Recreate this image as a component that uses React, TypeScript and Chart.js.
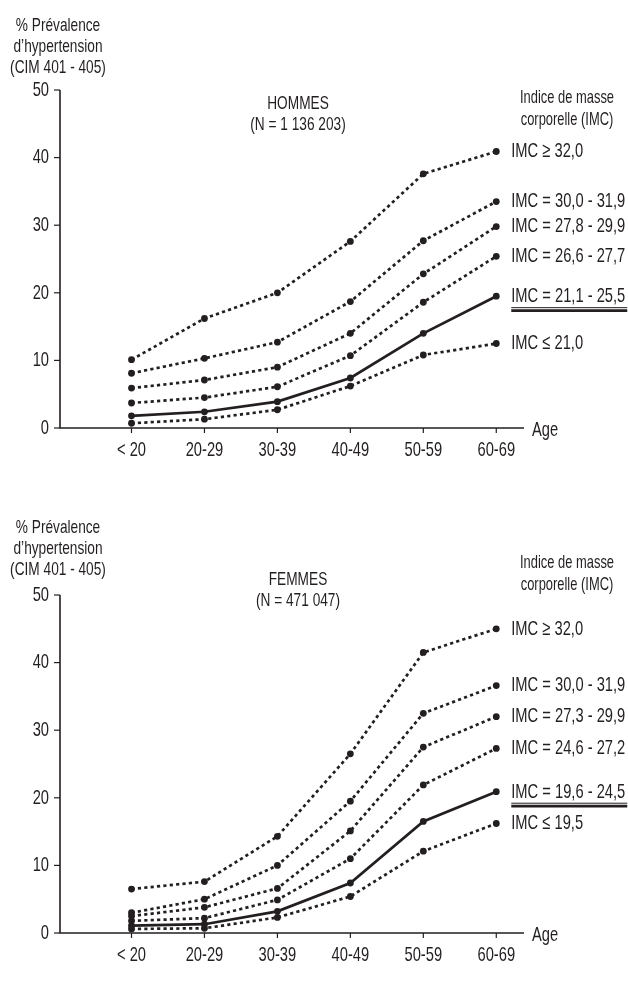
import React, { useEffect, useRef } from "react";
import { Chart, registerables } from "chart.js";

Chart.register(...registerables);

// ---------- DATA ----------
const AGE_LABELS = ["< 20", "20-29", "30-39", "40-49", "50-59", "60-69"];
const Y_TICKS = [0, 10, 20, 30, 40, 50];

const MEN_BMI_LABELS = [
  "IMC ≥ 32,0",
  "IMC = 30,0 - 31,9",
  "IMC = 27,8 - 29,9",
  "IMC = 26,6 - 27,7",
  "IMC = 21,1 - 25,5",
  "IMC ≤ 21,0",
];
const MEN_GE32 = [10.1, 16.2, 20.0, 27.6, 37.6, 40.9];
const MEN_30_31 = [8.1, 10.3, 12.7, 18.7, 27.7, 33.5];
const MEN_27_29 = [5.9, 7.1, 9.0, 14.0, 22.8, 29.8];
const MEN_26_27 = [3.7, 4.5, 6.1, 10.7, 18.6, 25.4];
const MEN_21_25 = [1.8, 2.4, 3.9, 7.4, 14.0, 19.5];
const MEN_LE21 = [0.7, 1.3, 2.7, 6.2, 10.8, 12.5];

const WOMEN_BMI_LABELS = [
  "IMC ≥ 32,0",
  "IMC = 30,0 - 31,9",
  "IMC = 27,3 - 29,9",
  "IMC = 24,6 - 27,2",
  "IMC = 19,6 - 24,5",
  "IMC ≤ 19,5",
];
const WOMEN_GE32 = [6.5, 7.6, 14.3, 26.5, 41.5, 45.0];
const WOMEN_30_31 = [3.0, 5.0, 10.0, 19.5, 32.5, 36.6];
const WOMEN_27_29 = [2.5, 3.8, 6.6, 15.1, 27.5, 32.0];
const WOMEN_24_27 = [1.8, 2.2, 4.9, 11.0, 21.9, 27.3];
const WOMEN_19_24 = [1.1, 1.3, 3.2, 7.4, 16.5, 20.9];
const WOMEN_LE19 = [0.6, 0.7, 2.3, 5.4, 12.1, 16.2];

const Y_TITLE = ["% Prévalence", "d’hypertension", "(CIM 401 - 405)"];
const LEGEND_TITLE = ["Indice de masse", "corporelle (IMC)"];
const X_TITLE = "Age";

const MEN_TITLE = ["HOMMES", "(N = 1 136 203)"];
const WOMEN_TITLE = ["FEMMES", "(N = 471 047)"];

// ---------- STYLE / LAYOUT ----------
const INK = "#231f20";
const W = 628;
const H = 494;
const FONT = '"Liberation Sans", Arial, sans-serif';
const SX = 0.7;

function txt(
  ctx: CanvasRenderingContext2D,
  s: string,
  x: number,
  y: number,
  align: CanvasTextAlign,
  size = 21,
  sx = SX
) {
  ctx.save();
  ctx.font = `${size}px ${FONT}`;
  ctx.fillStyle = INK;
  ctx.textBaseline = "middle";
  ctx.textAlign = align;
  ctx.translate(x, y);
  ctx.scale(sx, 1);
  ctx.fillText(s, 0, 0);
  const w = ctx.measureText(s).width * sx;
  ctx.restore();
  return w;
}

type Spec = {
  title: string[];
  labels: string[];
  series: number[][];
  solid: number;
  top: number; // pixel of y=50
  bottom: number; // pixel of y=0
  titleY: number;
  legendY: number;
  yTitleY: number;
};

function makePlugin(spec: Spec) {
  return {
    id: "decor",
    beforeDatasetsDraw(chart: any) {
      const ctx: CanvasRenderingContext2D = chart.ctx;
      const xs = chart.scales.x;
      const ys = chart.scales.y;
      const x0 = xs.left;
      const x1 = xs.right;
      const yb = ys.getPixelForValue(0);
      const yt = ys.getPixelForValue(50);
      ctx.save();
      ctx.strokeStyle = INK;
      ctx.lineWidth = 1.6;
      ctx.beginPath();
      ctx.moveTo(x0, yt);
      ctx.lineTo(x0, yb);
      ctx.lineTo(x1, yb);
      ctx.stroke();
      ctx.lineWidth = 1.2;
      Y_TICKS.forEach((v) => {
        const y = ys.getPixelForValue(v);
        ctx.beginPath();
        ctx.moveTo(x0 - 6, y);
        ctx.lineTo(x0, y);
        ctx.stroke();
      });
      AGE_LABELS.forEach((_, i) => {
        const x = xs.getPixelForValue(i);
        ctx.beginPath();
        ctx.moveTo(x, yb);
        ctx.lineTo(x, yb + 5);
        ctx.stroke();
      });
      ctx.restore();
    },
    afterDraw(chart: any) {
      const ctx: CanvasRenderingContext2D = chart.ctx;
      const xs = chart.scales.x;
      const ys = chart.scales.y;
      const x0 = xs.left;
      const yb = ys.getPixelForValue(0);
      Y_TICKS.forEach((v) => {
        txt(ctx, String(v), x0 - 11, ys.getPixelForValue(v), "right");
      });
      AGE_LABELS.forEach((l, i) => {
        txt(ctx, l, xs.getPixelForValue(i), yb + 22, "center");
      });
      txt(ctx, X_TITLE, xs.right + 8, yb + 2, "left");
      Y_TITLE.forEach((l, i) => {
        txt(ctx, l, x0 - 2, spec.yTitleY + i * 21, "center", 19, 0.72);
      });
      spec.title.forEach((l, i) => {
        txt(ctx, l, 298, spec.titleY + i * 21, "center", 19, 0.72);
      });
      LEGEND_TITLE.forEach((l, i) => {
        txt(ctx, l, 567, spec.legendY + i * 22, "center", 19, 0.68);
      });
      const lx = xs.getPixelForValue(5) + 15;
      spec.series.forEach((vals, k) => {
        const y = ys.getPixelForValue(vals[vals.length - 1]);
        const w = txt(ctx, spec.labels[k], lx, y, "left");
        if (k === spec.solid) {
          ctx.save();
          ctx.strokeStyle = INK;
          ctx.lineWidth = 1;
          ctx.beginPath();
          ctx.moveTo(lx, y + 11.5);
          ctx.lineTo(lx + w + 2, y + 11.5);
          ctx.stroke();
          ctx.lineWidth = 2.8;
          ctx.beginPath();
          ctx.moveTo(lx, y + 14.5);
          ctx.lineTo(lx + w + 2, y + 14.5);
          ctx.stroke();
          ctx.restore();
        }
      });
    },
  };
}

function ChartPanel({ spec }: { spec: Spec }) {
  const ref = useRef<HTMLCanvasElement | null>(null);
  useEffect(() => {
    if (!ref.current) return;
    const datasets = spec.series.map((vals, k) => ({
      label: spec.labels[k],
      data: vals.map((v, i) => ({ x: i, y: v })),
      borderColor: INK,
      backgroundColor: INK,
      borderWidth: 2.7,
      borderDash: k === spec.solid ? [] : [3.2, 3.2],
      pointRadius: 3.4,
      pointBackgroundColor: INK,
      pointBorderWidth: 0,
      tension: 0,
      clip: false as any,
    }));
    const chart = new Chart(ref.current, {
      type: "line",
      data: { datasets },
      options: {
        responsive: false,
        animation: false,
        events: [],
        layout: {
          autoPadding: false,
          padding: { left: 60, right: W - 524, top: spec.top, bottom: H - spec.bottom },
        },
        plugins: { legend: { display: false }, tooltip: { enabled: false } },
        scales: {
          x: { type: "linear", display: false, min: -0.98, max: 5.38 },
          y: { type: "linear", display: false, min: 0, max: 50 },
        },
      },
      plugins: [makePlugin(spec) as any],
    });
    return () => chart.destroy();
  }, [spec]);
  return <canvas ref={ref} width={W} height={H} style={{ display: "block", width: W, height: H }} />;
}

const MEN_SPEC: Spec = {
  title: MEN_TITLE,
  labels: MEN_BMI_LABELS,
  series: [MEN_GE32, MEN_30_31, MEN_27_29, MEN_26_27, MEN_21_25, MEN_LE21],
  solid: 4,
  top: 90,
  bottom: 428,
  titleY: 104,
  legendY: 98,
  yTitleY: 26,
};

const WOMEN_SPEC: Spec = {
  title: WOMEN_TITLE,
  labels: WOMEN_BMI_LABELS,
  series: [WOMEN_GE32, WOMEN_30_31, WOMEN_27_29, WOMEN_24_27, WOMEN_19_24, WOMEN_LE19],
  solid: 4,
  top: 101,
  bottom: 439,
  titleY: 86,
  legendY: 69,
  yTitleY: 34,
};

export default function App() {
  return (
    <div style={{ position: "absolute", left: 0, top: 0, width: W, height: 988, background: "#fff" }}>
      <ChartPanel spec={MEN_SPEC} />
      <ChartPanel spec={WOMEN_SPEC} />
    </div>
  );
}
